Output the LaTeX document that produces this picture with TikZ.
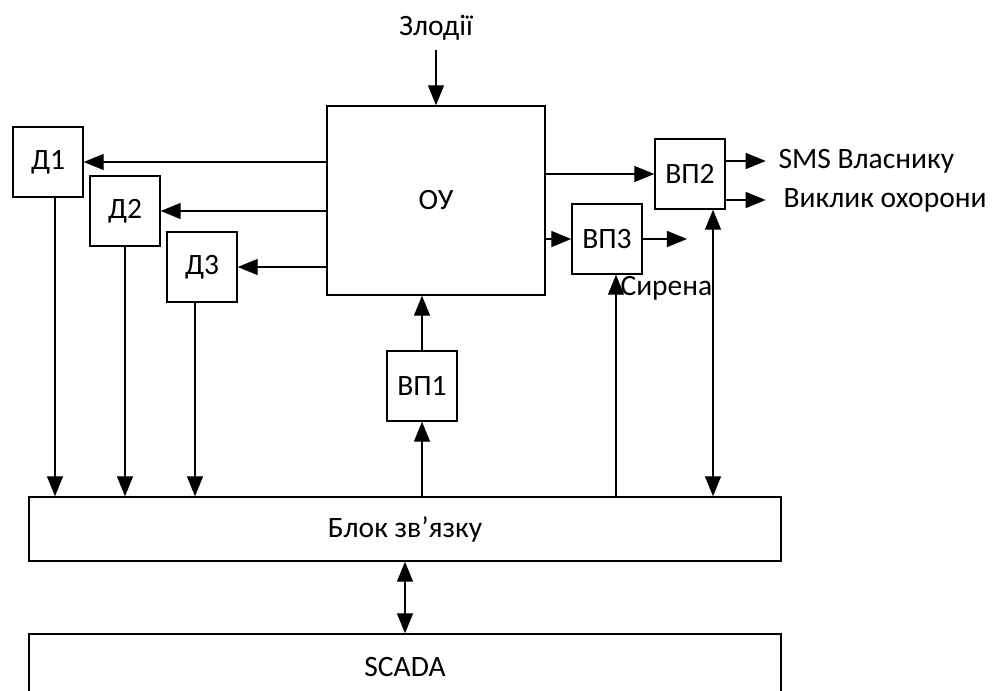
\documentclass[tikz,border=0pt]{standalone}
\usepackage{fontspec}
\setmainfont{Carlito}
\usetikzlibrary{arrows.meta}
\begin{document}
\begin{tikzpicture}[
  x=0.025cm, y=-0.025cm,
  >={Triangle[length=0.5cm,width=0.4cm]},
  line width=1pt,
  txt/.style={font=\fontsize{21}{25}\selectfont, inner sep=2pt},
  blk/.style={txt, draw, minimum width=1.75cm, minimum height=1.75cm}
]
  \useasboundingbox (0,0) rectangle (996,691);

  % Object and sensors
  \node[txt] (thief) at (436,28) {Злодії};
  \node[txt, draw, minimum width=5.45cm, minimum height=4.725cm] (ou) at (436,200.5) {ОУ};
  \node[blk] (d1) at (48,162) {Д1};
  \node[blk] (d2) at (125,211) {Д2};
  \node[blk] (d3) at (202,267) {Д3};

  % Converters
  \node[blk] (vp1) at (422,386) {ВП1};
  \node[blk] (vp2) at (690,174) {ВП2};
  \node[blk] (vp3) at (607,239) {ВП3};

  % Link block and SCADA
  \node[txt, draw, minimum width=18.8cm, minimum height=1.6cm] (link) at (405,529) {Блок зв’язку};
  \node[txt, draw, minimum width=18.8cm, minimum height=1.65cm] (scada) at (405,667) {SCADA};

  % Outputs
  \node[txt, anchor=west] (sms) at (775,161) {SMS Власнику};
  \node[txt, anchor=west] (guard) at (780,200) {Виклик охорони};
  \node[txt, anchor=west] (siren) at (617,288) {Сирена};
  \coordinate (sirout) at (687,239);

  \coordinate (s1) at ([xshift=0.175cm]d1.south);
  \coordinate (s3) at ([xshift=-0.175cm]d3.south);
  \coordinate (u3) at ([xshift=0.225cm]vp3.south);
  \coordinate (u2) at ([xshift=0.575cm]vp2.south);

  % Connections
  \draw[->, shorten <=4pt] (thief) -- (ou);
  \draw[->] (ou.west |- d1.east) -- (d1.east);
  \draw[->] (ou.west |- d2.east) -- (d2.east);
  \draw[->] (ou.west |- d3.east) -- (d3.east);
  \draw[->] (ou.east |- vp2.west) -- (vp2.west);
  \draw[->] (ou.east |- vp3.west) -- (vp3.west);
  \draw[->] (vp2.east |- sms) -- ++(1cm,0);
  \draw[->] (vp2.east |- guard) -- ++(1cm,0);
  \draw[->] (vp3.east) -- (sirout);

  \draw[->] (s1) -- (s1 |- link.north);
  \draw[->] (d2.south) -- (d2.south |- link.north);
  \draw[->] (s3) -- (s3 |- link.north);
  \draw[->] (vp1.south |- link.north) -- (vp1.south);
  \draw[->] (vp1.north) -- (vp1.north |- ou.south);
  \draw[->] (u3 |- link.north) -- (u3);
  \draw[<->] (u2 |- link.north) -- (u2);
  \draw[<->] (link.south) -- (scada.north);
\end{tikzpicture}
\end{document}
